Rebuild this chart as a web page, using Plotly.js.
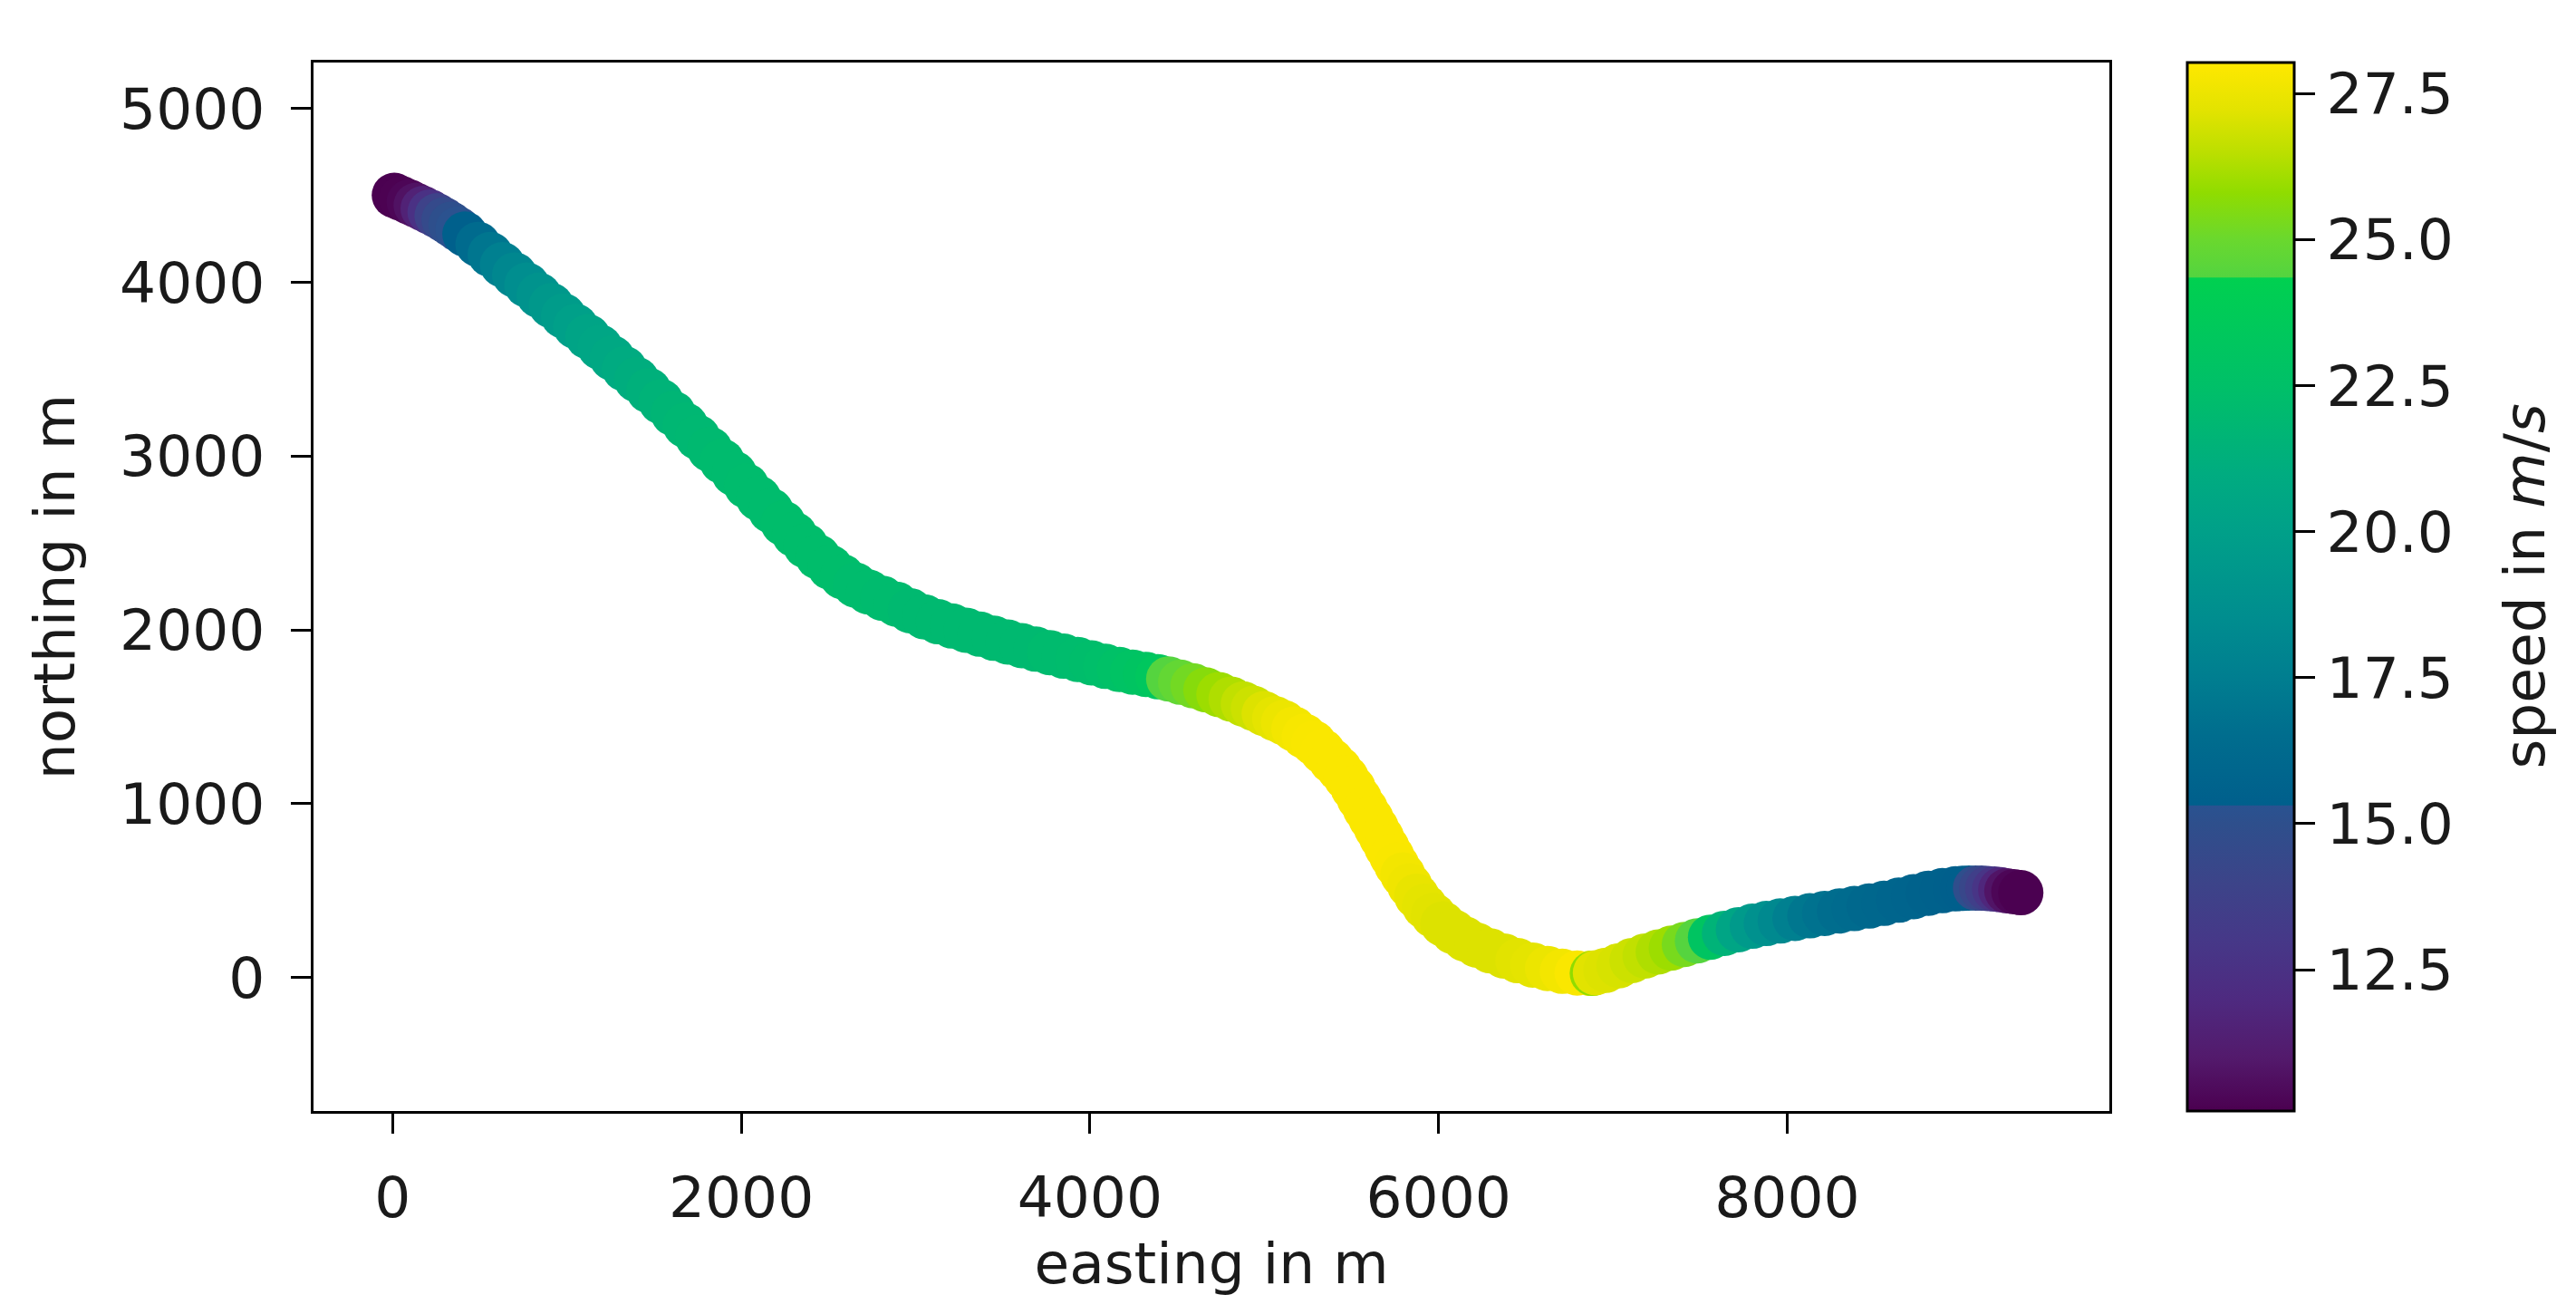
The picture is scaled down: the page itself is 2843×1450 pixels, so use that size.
<!DOCTYPE html>
<html>
<head>
<meta charset="utf-8">
<script src="https://cdn.plot.ly/plotly-3.0.1.min.js"></script>
<style>
html,body{margin:0;padding:0;background:#ffffff;}
#chart{width:2843px;height:1450px;}
</style>
</head>
<body>
<div id="chart"></div>
<script>
// Track: easting (m), northing (m), speed (m/s)
const easting = [10,50,95,135,175,215,255,295,335,375,415,490,560,630,700,770,840,910,980,1050,1120,1190,1260,1330,1400,1470,1540,1610,1680,1750,1820,1890,1960,2030,2100,2170,2240,2305,2370,2440,2510,2580,2655,2730,2810,2890,2970,3050,3130,3210,3290,3370,3450,3530,3610,3690,3770,3850,3930,4010,4090,4170,4245,4320,4390,4452,4520,4591,4665,4740,4810,4880,4938,5000,5060,5111,5170,5230,5284,5335,5385,5430,5470,5510,5545,5580,5612,5643,5673,5703,5732,5760,5795,5835,5875,5920,5970,6025,6085,6150,6220,6295,6375,6455,6540,6625,6710,6795,6870,6882,6900,6960,7035,7110,7185,7260,7335,7410,7485,7560,7640,7720,7800,7880,7960,8045,8130,8215,8300,8385,8470,8555,8640,8725,8810,8890,8965,9005,9042,9080,9115,9150,9190,9225,9260,9300,9340];
const northing = [4500,4482,4462,4443,4424,4404,4383,4359,4333,4306,4277,4218,4160,4101,4042,3984,3925,3866,3806,3746,3687,3626,3564,3502,3440,3377,3313,3245,3177,3108,3039,2970,2899,2828,2757,2685,2614,2549,2484,2420,2360,2306,2258,2218,2182,2148,2110,2075,2047,2022,1998,1975,1952,1930,1909,1889,1869,1849,1830,1810,1790,1772,1757,1744,1731,1718,1699,1679,1655,1628,1602,1574,1549,1518,1490,1467,1430,1388,1349,1300,1247,1200,1150,1090,1030,970,915,860,805,750,697,647,590,528,468,410,358,308,263,222,186,154,124,97,72,52,36,26,24,24,27,42,68,98,124,147,169,190,211,232,254,275,295,311,325,340,355,369,383,397,411,427,445,465,485,500,510,513,515,515,514,512,509,505,499,494,488];
const speed = [10.1,10.15,10.3,10.7,11.5,12.5,13.8,14.5,15.0,15.25,15.4,16.3,17.0,17.6,18.1,18.6,19.0,19.4,19.7,20.0,20.3,20.5,20.7,20.9,21.1,21.3,21.5,21.7,21.8,21.9,22.0,22.1,22.1,22.2,22.2,22.2,22.3,22.3,22.3,22.3,22.3,22.3,22.2,22.2,22.1,22.1,22.0,22.0,22.0,22.0,22.0,22.0,22.0,22.0,22.0,22.0,22.1,22.1,22.2,22.3,22.4,22.6,22.8,23.0,23.3,24.4,24.8,25.2,25.6,26.0,26.3,26.6,26.8,27.1,27.3,27.5,27.7,27.8,27.85,27.9,27.9,27.9,27.9,27.9,27.9,27.9,27.9,27.9,27.9,27.9,27.9,27.85,27.7,27.6,27.4,27.3,27.2,27.1,27.1,27.1,27.1,27.1,27.1,27.2,27.3,27.5,27.7,27.9,27.9,25.8,27.2,27.1,27.0,26.8,26.6,26.3,26.0,25.3,24.4,23.0,21.5,20.4,19.5,18.8,18.2,17.6,17.1,16.8,16.5,16.3,16.1,16.0,15.8,15.7,15.6,15.5,15.4,15.35,15.35,14.9,14.3,13.6,12.8,11.8,10.8,10.3,10.1];

// Tick labels
const xTicks = [0, 2000, 4000, 6000, 8000];
const yTicks = [0, 1000, 2000, 3000, 4000, 5000];
const speedTicks = [12.5, 15.0, 17.5, 20.0, 22.5, 25.0, 27.5];
const speedMin = 10.08;
const speedMax = 28.03;

// Colour bar palette as it appears in the picture (value -> colour)
const paletteValues = [10.08, 11.0, 12.0, 13.0, 14.0, 15.0, 15.30, 15.32, 16.5, 17.5, 18.5, 20.0, 21.0, 22.5, 24.34, 24.36, 25.0, 25.8, 26.5, 27.2, 28.03];
const paletteColors = ['#4b0050','#531a6c','#4e2a80','#463888','#3c4489','#2e4f8c','#2a5290','#005f8c','#006d8e','#007e90','#008d8f','#00a089','#00ac80','#00c068','#00d050','#54d440','#6ad82e','#90dc00','#bcdf00','#e2e300','#ffe800'];

const colorscale = paletteValues.map((v, i) => [(v - speedMin) / (speedMax - speedMin), paletteColors[i]]);

const FONT = 'DejaVu Sans, Liberation Sans, sans-serif';
const TXT = '#1a1a1a';

// plot area in pixels: left 346, right 2328, top 69, bottom 1226
const plotW = 2328 - 346;

const trace = {
  type: 'scatter',
  mode: 'markers',
  x: easting,
  y: northing,
  hoverinfo: 'skip',
  marker: {
    size: 50,
    color: speed,
    colorscale: colorscale,
    cmin: speedMin,
    cmax: speedMax,
    line: {width: 0},
    opacity: 1,
    showscale: true,
    colorbar: {
      thickness: 118, thicknessmode: 'pixels',
      len: 1, lenmode: 'fraction',
      x: (2414 - 346) / plotW, xref: 'paper', xanchor: 'left', xpad: 0,
      y: 0, yref: 'paper', yanchor: 'bottom', ypad: 0,
      outlinecolor: '#000000', outlinewidth: 3,
      tickmode: 'array',
      tickvals: speedTicks,
      ticktext: speedTicks.map(v => v.toFixed(1)),
      ticks: 'outside', ticklen: 22, tickwidth: 3, tickcolor: '#000000',
      tickfont: {family: FONT, size: 63, color: TXT}
    }
  }
};

const axisCommon = {
  ticks: 'outside', ticklen: 22, tickwidth: 3, tickcolor: '#000000',
  showline: true, linecolor: '#000000', linewidth: 3, mirror: true,
  showgrid: false, zeroline: false,
  tickfont: {family: FONT, size: 63, color: TXT},
  ticklabelstandoff: 16,
  fixedrange: true
};

const layout = {
  width: 2843, height: 1450,
  margin: {l: 346, r: 515, t: 69, b: 224, pad: 0},
  paper_bgcolor: '#ffffff', plot_bgcolor: '#ffffff',
  showlegend: false,
  font: {family: FONT, size: 63, color: TXT},
  xaxis: Object.assign({}, axisCommon, {
    range: [-453.7, 9848],
    tickmode: 'array', tickvals: xTicks, ticktext: xTicks.map(String),
    title: {text: 'easting in m', standoff: 10, font: {family: FONT, size: 63, color: TXT}}
  }),
  yaxis: Object.assign({}, axisCommon, {
    range: [-768, 5264],
    tickmode: 'array', tickvals: yTicks, ticktext: yTicks.map(String),
    title: {text: 'northing in m', standoff: 30, font: {family: FONT, size: 63, color: TXT}}
  }),
  annotations: [{
    text: 'speed in <i>m</i>/<i>s</i>',
    xref: 'paper', yref: 'paper',
    x: (2786 - 346) / plotW, y: 0.5,
    xanchor: 'center', yanchor: 'middle',
    textangle: -90, showarrow: false,
    font: {family: FONT, size: 63, color: TXT}
  }]
};

Plotly.newPlot('chart', [trace], layout, {displayModeBar: false, staticPlot: true});
</script>
</body>
</html>
